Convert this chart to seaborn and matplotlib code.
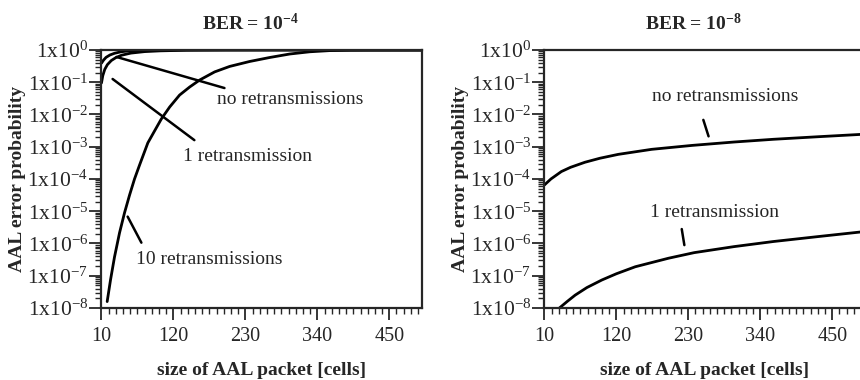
import numpy as np
import pandas as pd
import matplotlib
matplotlib.use("Agg")
import matplotlib.pyplot as plt
import matplotlib.ticker as mticker
import seaborn as sns

# --- data (packet size in cells, error probability)
# BER = 1e-4
x4_none = [10, 13, 17, 23, 30, 40, 50, 65, 85, 120, 160, 500]
p4_none = [0.39, 0.48, 0.59, 0.70, 0.79, 0.88, 0.93, 0.965, 0.985, 0.996, 1.0, 1.0]

x4_one = [10, 12, 15, 19, 25, 32, 41, 55, 76, 100, 140, 200, 300, 500]
p4_one = [0.095, 0.16, 0.25, 0.35, 0.47, 0.58, 0.69, 0.80, 0.89, 0.94, 0.98, 0.995, 1.0, 1.0]

x4_ten = [18.7, 23.8, 29.9, 37.6, 45.2, 52.9, 60.5, 68.2, 80.9, 91.2, 101.4, 114.2,
          129.4, 144.8, 160.1, 183, 206, 236.6, 267.3, 297.9, 328.5, 359.2, 389.8,
          420, 500]
p4_ten = [1.58e-8, 7.4e-8, 3.8e-7, 2.14e-6, 8.9e-6, 3.16e-5, 1.0e-4, 2.7e-4,
          1.32e-3, 3.1e-3, 7.2e-3, 1.7e-2, 4.0e-2, 7.1e-2, 0.117, 0.209, 0.309,
          0.44, 0.585, 0.75, 0.879, 0.957, 0.986, 0.995, 0.999]

# BER = 1e-8
x8_none = [10, 20, 36, 50, 72, 95, 123, 174, 236, 300, 360, 430, 500]
p8_none = [6.5e-5, 1.0e-4, 1.7e-4, 2.3e-4, 3.3e-4, 4.4e-4, 5.8e-4, 8.3e-4,
           1.1e-3, 1.4e-3, 1.7e-3, 2.05e-3, 2.45e-3]

x8_one = [33, 45, 57, 75, 98, 120, 149, 200, 239, 300, 360, 430, 500]
p8_one = [1.0e-8, 1.6e-8, 2.5e-8, 4.3e-8, 7.4e-8, 1.15e-7, 1.9e-7, 3.5e-7,
          5.2e-7, 8.0e-7, 1.15e-6, 1.65e-6, 2.35e-6]

titles = [r"BER = 10$^{\mathbf{-4}}$", r"BER = 10$^{\mathbf{-8}}$"]
x_ticks = [10, 120, 230, 340, 450]

# label text, text position, pointer start, pointer end
notes_left = [
    ("no retransmissions", (186, 10**-1.55), (33, 0.607), (198, 0.066)),
    ("1 retransmission", (134, 10**-3.3), (27, 0.126), (152, 1.6e-3)),
    ("10 retransmissions", (63, 10**-6.5), (50, 6.8e-6), (71, 1.06e-6)),
]
notes_right = [
    ("no retransmissions", (174, 10**-1.45), (253, 6.8e-3), (261, 2.1e-3)),
    ("1 retransmission", (172, 10**-5.05), (220, 2.8e-6), (224, 8.9e-7)),
]

sns.set_style("ticks")
plt.rcParams["font.family"] = ["Liberation Serif", "DejaVu Serif"]
plt.rcParams["mathtext.fontset"] = "custom"
plt.rcParams["mathtext.rm"] = "Liberation Serif"
plt.rcParams["mathtext.bf"] = "Liberation Serif:bold"
plt.rcParams["mathtext.it"] = "Liberation Serif:italic"

fig = plt.figure(figsize=(8.6, 3.8), dpi=100)
ax_l = fig.add_axes([0.118, 0.1895, 0.3727, 0.679])
ax_r = fig.add_axes([0.633, 0.1895, 0.3727, 0.679])

df_l = pd.concat([
    pd.DataFrame({"x": x4_none, "p": p4_none, "curve": "none"}),
    pd.DataFrame({"x": x4_one, "p": p4_one, "curve": "one"}),
    pd.DataFrame({"x": x4_ten, "p": p4_ten, "curve": "ten"}),
])
df_r = pd.concat([
    pd.DataFrame({"x": x8_none, "p": p8_none, "curve": "none"}),
    pd.DataFrame({"x": x8_one, "p": p8_one, "curve": "one"}),
])

fmt = mticker.FuncFormatter(lambda v, pos: f"1x10$^{{{int(round(np.log10(v)))}}}$")

for ax, df, title, notes in [(ax_l, df_l, titles[0], notes_left),
                             (ax_r, df_r, titles[1], notes_right)]:
    sns.lineplot(data=df, x="x", y="p", units="curve", estimator=None,
                 color="black", linewidth=2.0, ax=ax, legend=False)
    ax.set_yscale("log")
    ax.set_ylim(1e-8, 1)
    ax.set_xlim(10, 500)
    ax.set_xticks(x_ticks)
    ax.xaxis.set_minor_locator(mticker.FixedLocator(np.arange(10, 501, 11)))
    ax.yaxis.set_major_locator(mticker.LogLocator(base=10, numticks=20))
    ax.yaxis.set_minor_locator(mticker.LogLocator(base=10, subs=np.arange(2, 10), numticks=20))
    ax.yaxis.set_minor_formatter(mticker.NullFormatter())
    ax.yaxis.set_major_formatter(fmt)
    ax.tick_params(axis="x", which="major", length=8.5, width=1.3, labelsize=14.5, pad=5)
    ax.tick_params(axis="x", which="minor", length=4.3, width=1.0)
    ax.tick_params(axis="y", which="major", length=8.5, width=1.3, labelsize=15.5, pad=1)
    ax.tick_params(axis="y", which="minor", length=4.3, width=1.0)
    for s in ax.spines.values():
        s.set_linewidth(1.6)
    ax.set_xlabel("size of AAL packet [cells]", fontsize=14, fontweight="bold", labelpad=12)
    ax.set_ylabel("AAL error probability", fontsize=14, fontweight="bold", labelpad=1)
    ax.set_title(title, fontsize=14, fontweight="bold", x=0.465, pad=14)
    for text, pos, start, end in notes:
        ax.text(pos[0], pos[1], text, fontsize=14, ha="left", va="center")
        ax.annotate("", xy=end, xytext=start,
                    arrowprops=dict(arrowstyle="-", lw=1.8, color="black",
                                    shrinkA=0, shrinkB=0))

fig.savefig("out.png", dpi=100)
